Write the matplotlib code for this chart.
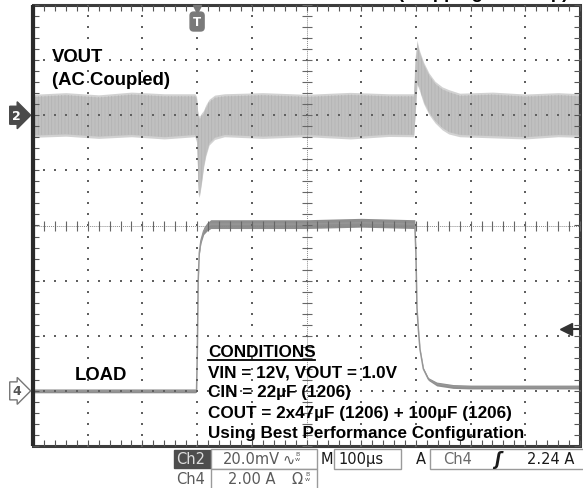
import matplotlib
matplotlib.use("Agg")
import matplotlib.pyplot as plt
import numpy as np
from matplotlib.patches import Rectangle

W, H = 583, 489

# ch2: VOUT, AC coupled, mV (noise band envelope)
vout_t = [0, 60, 120, 180, 240, 296, 299, 301, 303, 305, 308, 312, 316, 322, 332, 350,
          420, 500, 580, 650, 696, 699, 702, 706, 714, 724, 735, 748, 760, 780,
          840, 900, 960, 1000]
vout_hi = [6.8, 7.4, 6.6, 7.6, 7.0, 7.0, 6.0, 1.0, -1.0, -1.0, 0.0, 1.0, 3.0, 5.0, 6.5, 7.0,
           7.4, 6.8, 7.5, 7.0, 7.0, 20.0, 26.5, 23.0, 18.5, 14.5, 11.5, 9.5, 8.5, 7.2,
           7.6, 6.9, 7.4, 7.0]
vout_lo = [-7.2, -6.8, -7.6, -7.0, -7.8, -7.0, -9.0, -20.0, -29.0, -28.0, -24.0, -18.0, -14.0, -10.0, -8.0, -7.0,
           -7.6, -7.0, -7.8, -6.9, -7.0, 2.0, 12.0, 10.0, 5.0, 1.0, -2.0, -4.5, -6.0, -7.0,
           -7.4, -7.8, -7.0, -7.2]

# ch4: load current, A
load_t = [0, 150, 296, 299, 300.5, 302, 304, 307, 312, 318, 325, 400, 500, 600, 698,
          700, 702, 704.5, 707.5, 713.6, 722.7, 738, 768, 800, 900, 1000]
load_i = [0, 0, 0, 0, 1.5, 4.0, 5.0, 5.45, 5.8, 5.95, 6.05, 6.05, 6.05, 6.1, 6.05,
          5.0, 3.0, 2.24, 1.5, 0.8, 0.43, 0.25, 0.16, 0.14, 0.14, 0.14]
load_pk = [0.07, 0.07, 0.07, 0.05, 0.03, 0.03, 0.06, 0.1, 0.13, 0.15, 0.16, 0.16, 0.16, 0.16, 0.16,
           0.03, 0.03, 0.03, 0.03, 0.04, 0.05, 0.07, 0.07, 0.07, 0.07, 0.07]

trig_level = 2.24
ch2_scale, ch2_pos = 20.0, 2      # mV/div, marker position (div)
ch4_scale, ch4_pos = 2.0, -3      # A/div
t_div = 100                       # us/div

conditions = ["VIN = 12V, VOUT = 1.0V",
              "CIN = 22\u00b5F (1206)",
              "COUT = 2x47\u00b5F (1206) + 100\u00b5F (1206)",
              "Using Best Performance Configuration"]


def fx(x):
    return x / W


def fy(y):
    return 1 - y / H


fig = plt.figure(figsize=(W / 100, H / 100), dpi=100)
fig.patch.set_facecolor("white")
rect = [33 / W, (H - 447) / H, 547 / W, 441 / H]

# traces
ax2 = fig.add_axes(rect, facecolor="none")
ax2.set_xlim(0, 10 * t_div)
ax2.set_ylim((-4 - ch2_pos) * ch2_scale, (4 - ch2_pos) * ch2_scale)
ax2.axis("off")
vh = np.array(vout_hi)
vl = np.array(vout_lo)
ax2.fill_between(vout_t, vl - 0.8, vh + 0.8, color="#d2d2d2", lw=0)
ax2.fill_between(vout_t, vl, vh, color="#c0c0c0", lw=0)
plt.rcParams["hatch.linewidth"] = 0.5
ax2.fill_between(vout_t, vl, vh, facecolor="none", edgecolor="#b2b2b2",
                 hatch="|||||", lw=0)

ax4 = fig.add_axes(rect, facecolor="none")
ax4.set_xlim(0, 10 * t_div)
ax4.set_ylim((-4 - ch4_pos) * ch4_scale, (4 - ch4_pos) * ch4_scale)
ax4.axis("off")
li = np.array(load_i)
lp = np.array(load_pk)
ax4.fill_between(load_t, li - lp, li + lp, color="#8e8e8e", lw=0)
ax4.plot(load_t, load_i, color="#969696", lw=1.1)
ax4.plot([975, 1000], [trig_level, trig_level], color="#333333", lw=1.5, clip_on=False)
ax4.plot([975], [trig_level], marker="<", ms=8, color="#333333", clip_on=False)

# graticule, in divisions
g = fig.add_axes(rect, facecolor="none")
g.set_xlim(0, 10)
g.set_ylim(-4, 4)
g.axis("off")
mx = np.arange(0, 10.001, 0.2)
my = np.arange(-4, 4.001, 0.2)
dot = dict(ls="none", marker="s", ms=1.5, color="#606060", mew=0)
for yv in [-3, -2, -1, 1, 2, 3]:
    g.plot(mx, np.full(len(mx), yv), **dot)
for xv in [1, 2, 3, 4, 6, 7, 8, 9]:
    g.plot(np.full(len(my), xv), my, **dot)
g.axhline(0, color="#8a8a8a", lw=0.7, ls=(0, (1, 1)))
g.axvline(5, color="#8a8a8a", lw=0.7, ls=(0, (1, 1)))
g.plot(mx, np.zeros(len(mx)), ls="none", marker="|", ms=7, mew=0.8, color="#666666")
g.plot(np.full(len(my), 5), my, ls="none", marker="_", ms=7, mew=0.8, color="#666666")
tk = dict(ls="none", ms=4, mew=0.8, color="#555555", clip_on=False)
g.plot(mx, np.full(len(mx), -4), marker=2, **tk)
g.plot(mx, np.full(len(mx), 4), marker=3, **tk)
g.plot(np.zeros(len(my)), my, marker=1, **tk)
g.plot(np.full(len(my), 10), my, marker=0, **tk)
g.add_patch(Rectangle((0, -4), 10, 8, fill=False, ec="#3c3c3c", lw=2.2, clip_on=False))
g.plot([0, 0], [-4, 4], color="#2a2a2a", lw=3, clip_on=False, solid_capstyle="butt")

# channel / trigger markers
g.text(-0.3, ch2_pos, "2", ha="center", va="center", color="white", fontsize=9,
       fontweight="bold", bbox=dict(boxstyle="rarrow,pad=0.2", fc="#4a4a4a", ec="#4a4a4a"))
g.text(-0.3, ch4_pos, "4", ha="center", va="center", color="#555555", fontsize=9,
       fontweight="bold", bbox=dict(boxstyle="rarrow,pad=0.2", fc="white", ec="#777777", lw=1))
g.plot([3], [3.93], marker="v", ms=6, color="#777777", clip_on=False)
g.text(3, 3.7, "T", ha="center", va="center", color="white", fontsize=8.5, fontweight="bold",
       bbox=dict(boxstyle="round,pad=0.25,rounding_size=0.3", fc="#7a7a7a", ec="#7a7a7a"))

# annotations
bold = dict(family="Liberation Sans", fontweight="bold", color="black", va="baseline")
fig.text(fx(483), fy(-2), "(Stepping Load Up)", ha="center", fontsize=13.3, **bold)
fig.text(fx(52), fy(62), "VOUT", fontsize=13.3, **bold)
fig.text(fx(52), fy(85), "(AC Coupled)", fontsize=13.3, **bold)
fig.text(fx(75), fy(380), "LOAD", fontsize=13.3, **bold)
fig.text(fx(208), fy(357), "CONDITIONS", fontsize=12.3, **bold)
fig.add_artist(plt.Line2D([fx(208), fx(315)], [fy(360.5), fy(360.5)], color="black", lw=1.3))
for i, line in enumerate(conditions):
    fig.text(fx(208), fy(377 + 20.3 * i), line, fontsize=12.3, **bold)

# status bar
def box(x0, x1, y0, y1, fc="white", ec="#9a9a9a"):
    fig.add_artist(Rectangle((fx(x0), fy(y1)), (x1 - x0) / W, (y1 - y0) / H,
                             transform=fig.transFigure, fc=fc, ec=ec, lw=1))


st = dict(family=["DejaVu Sans"], fontsize=10.5, va="center")
box(174, 211, 451, 469, fc="#4d4d4d", ec="#4d4d4d")
box(211, 317, 450, 470)
box(334, 401, 450, 470)
box(430, 600, 450, 470)
box(211, 317, 470, 495)
fig.text(fx(176), fy(460), "Ch2", color="#dddddd", **st)
fig.text(fx(223), fy(460), "20.0mV", color="#5a5a5a", **st)
fig.text(fx(282), fy(460), "\u223f", color="#5a5a5a", **st)
fig.text(fx(295), fy(457), "B\nw", color="#5a5a5a", family="DejaVu Sans", fontsize=4.5,
         va="center", linespacing=0.8)
fig.text(fx(321), fy(460), "M", color="#1a1a1a", **st)
fig.text(fx(338), fy(460), "100\u00b5s", color="#1a1a1a", **st)
fig.text(fx(416), fy(460), "A", color="#1a1a1a", **st)
fig.text(fx(443), fy(460), "Ch4", color="#6a6a6a", **st)
fig.text(fx(494), fy(460), "\u0283", color="#1a1a1a", family="DejaVu Sans", fontsize=12,
         fontweight="bold", fontstyle="italic", va="center")
fig.text(fx(527), fy(460), "2.24 A", color="#1a1a1a", **st)
fig.text(fx(176), fy(480), "Ch4", color="#5a5a5a", **st)
fig.text(fx(228), fy(480), "2.00 A", color="#5a5a5a", **st)
fig.text(fx(291), fy(480), "\u03a9", color="#5a5a5a", **st)
fig.text(fx(305), fy(477), "B\nw", color="#5a5a5a", family="DejaVu Sans", fontsize=4.5,
         va="center", linespacing=0.8)

fig.savefig("out.png", dpi=100, facecolor="white")
